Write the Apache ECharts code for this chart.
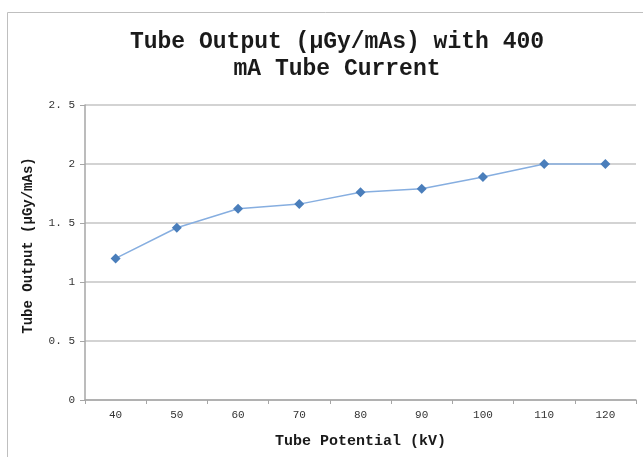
<!DOCTYPE html>
<html>
<head>
<meta charset="utf-8">
<script src="https://cdn.jsdelivr.net/npm/echarts@6/dist/echarts.min.js"></script>
<style>html,body{margin:0;padding:0;background:#fff}#c{width:643px;height:457px}</style>
</head>
<body>
<div id="c"></div>
<script>
const categories = ['40','50','60','70','80','90','100','110','120'];
const outputValues = [1.20, 1.46, 1.62, 1.66, 1.76, 1.79, 1.89, 2.00, 2.00];
const yTicks = [0, 0.5, 1, 1.5, 2, 2.5];
const titleText = 'Tube Output (\u03bcGy/mAs) with 400\nmA Tube Current';
const xName = 'Tube Potential (kV)';
const yName = 'Tube Output (\u03bcGy/mAs)';
const font = '"Liberation Mono", "DejaVu Sans Mono", monospace';

const chart = echarts.init(document.getElementById('c'));
chart.setOption({
  animation: false,
  backgroundColor: '#fff',
  graphic: [{
    type: 'rect', shape: {x: 7.5, y: 12.5, width: 700, height: 500},
    style: {fill: 'none', stroke: '#bfbfbf', lineWidth: 1}, silent: true
  }],
  title: {
    text: titleText, left: 332, textAlign: 'center', top: 24,
    textStyle: {fontFamily: font, fontSize: 23, fontWeight: 'bold', color: '#1a1a1a', lineHeight: 27}
  },
  grid: {left: 85, right: 7, top: 105, bottom: 57},
  xAxis: {
    type: 'category', data: categories, boundaryGap: true,
    name: xName, nameLocation: 'middle', nameGap: 34,
    nameTextStyle: {fontFamily: font, fontSize: 15, fontWeight: 'bold', color: '#1a1a1a'},
    axisLine: {lineStyle: {color: '#a6a6a6', width: 1.5}},
    axisTick: {show: true, length: 4, lineStyle: {color: '#a6a6a6'}},
    axisLabel: {fontFamily: font, fontSize: 11, color: '#333', margin: 10},
    splitLine: {show: false}
  },
  yAxis: {
    type: 'value', min: yTicks[0], max: yTicks[yTicks.length - 1], interval: 0.5,
    name: yName, nameLocation: 'middle', nameGap: 50, nameRotate: 90,
    nameTextStyle: {fontFamily: font, fontSize: 14, fontWeight: 'bold', color: '#1a1a1a', padding: [0, 0, 0, 14]},
    axisLine: {show: true, lineStyle: {color: '#a6a6a6', width: 1.5}},
    axisTick: {show: true, length: 5, lineStyle: {color: '#a6a6a6'}},
    axisLabel: {fontFamily: font, fontSize: 11, color: '#333', margin: 10,
      formatter: v => String(v).replace('.', '. ')},
    splitLine: {lineStyle: {color: '#c4c4c4', width: 1.5}}
  },
  series: [{
    type: 'line', data: outputValues,
    symbol: 'diamond', symbolSize: 10,
    lineStyle: {color: '#86aee0', width: 1.5},
    itemStyle: {color: '#4a7ebb'}
  }]
});
</script>
</body>
</html>
